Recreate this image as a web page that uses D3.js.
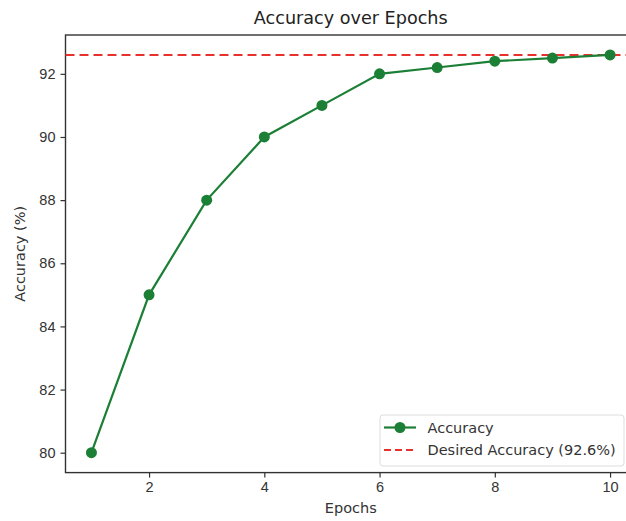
<!DOCTYPE html>
<html>
<head>
<meta charset="utf-8">
<script src="https://cdn.jsdelivr.net/npm/d3@7"></script>
<style>
  html, body { margin: 0; padding: 0; background: #fff; }
  svg { display: block; font-family: "DejaVu Sans", "Open Sans", sans-serif; }
</style>
</head>
<body>
<svg id="chart" width="626" height="521"></svg>
<script>
// Training accuracy per epoch
const epochs = [1, 2, 3, 4, 5, 6, 7, 8, 9, 10];
const accuracy = [80, 85, 88, 90, 91, 92, 92.2, 92.4, 92.5, 92.6];
const targetAccuracy = 92.6;
const xTicks = [2, 4, 6, 8, 10];
const yTicks = [80, 82, 84, 86, 88, 90, 92];
const seriesNames = ["Accuracy", "Desired Accuracy (92.6%)"];

const lineColor = "#1b7f35";
const refColor = "#e8302c";
const axisColor = "#333";
const labelSize = "14.5px";

const svg = d3.select("#chart");
const plot = { left: 65.5, right: 636, top: 35, bottom: 472.6 };

// 5% padding around the data range, like the usual plotting defaults
const xMin = d3.min(epochs), xMax = d3.max(epochs);
const xPad = (xMax - xMin) * 0.05;
const yMin = d3.min(accuracy), yMax = d3.max(accuracy.concat([targetAccuracy]));
const yPad = (yMax - yMin) * 0.05;

const x = d3.scaleLinear().domain([xMin - xPad, xMax + xPad]).range([plot.left, plot.right]);
const y = d3.scaleLinear().domain([yMin - yPad, yMax + yPad]).range([plot.bottom, plot.top]);

// Axes
const xAxis = svg.append("g")
  .attr("transform", `translate(0,${plot.bottom})`)
  .call(d3.axisBottom(x).tickValues(xTicks).tickFormat(d3.format("d")).tickSize(5).tickPadding(4));
const yAxis = svg.append("g")
  .attr("transform", `translate(${plot.left},0)`)
  .call(d3.axisLeft(y).tickValues(yTicks).tickFormat(d3.format("d")).tickSize(5).tickPadding(5));
[xAxis, yAxis].forEach(g => {
  g.select(".domain").remove();
  g.selectAll(".tick line").attr("stroke", axisColor).attr("stroke-width", 1.2);
  g.selectAll(".tick text").attr("fill", "#333").style("font-size", labelSize);
});

// Frame
svg.append("rect")
  .attr("x", plot.left).attr("y", plot.top)
  .attr("width", plot.right - plot.left).attr("height", plot.bottom - plot.top)
  .attr("fill", "none").attr("stroke", axisColor).attr("stroke-width", 1.4);

// Target line
svg.append("line")
  .attr("x1", plot.left).attr("x2", plot.right)
  .attr("y1", y(targetAccuracy)).attr("y2", y(targetAccuracy))
  .attr("stroke", refColor).attr("stroke-width", 2)
  .attr("stroke-dasharray", "9,5");

// Accuracy series
const line = d3.line().x((d, i) => x(epochs[i])).y(d => y(d));
svg.append("path")
  .datum(accuracy)
  .attr("d", line)
  .attr("fill", "none").attr("stroke", lineColor).attr("stroke-width", 2.2);
svg.append("g").selectAll("circle")
  .data(accuracy)
  .join("circle")
  .attr("cx", (d, i) => x(epochs[i])).attr("cy", d => y(d))
  .attr("r", 5.5).attr("fill", lineColor);

// Titles
svg.append("text")
  .attr("x", (plot.left + plot.right) / 2).attr("y", 24)
  .attr("text-anchor", "middle").attr("fill", "#222")
  .style("font-size", "17.6px")
  .text("Accuracy over Epochs");
svg.append("text")
  .attr("x", (plot.left + plot.right) / 2).attr("y", 513)
  .attr("text-anchor", "middle").attr("fill", "#333")
  .style("font-size", labelSize)
  .text("Epochs");
svg.append("text")
  .attr("transform", `translate(25,${(plot.top + plot.bottom) / 2}) rotate(-90)`)
  .attr("text-anchor", "middle").attr("fill", "#333")
  .style("font-size", labelSize)
  .text("Accuracy (%)");

// Legend
const legend = svg.append("g").attr("transform", "translate(380,415)");
legend.append("rect")
  .attr("width", 244).attr("height", 51).attr("rx", 3)
  .attr("fill", "#fff").attr("fill-opacity", 0.85)
  .attr("stroke", "#ddd").attr("stroke-width", 1);
const rowY = [12.5, 35];
legend.append("line")
  .attr("x1", 4).attr("x2", 36).attr("y1", rowY[0]).attr("y2", rowY[0])
  .attr("stroke", lineColor).attr("stroke-width", 2.2);
legend.append("circle").attr("cx", 20).attr("cy", rowY[0]).attr("r", 5.5).attr("fill", lineColor);
legend.append("line")
  .attr("x1", 4).attr("x2", 36).attr("y1", rowY[1]).attr("y2", rowY[1])
  .attr("stroke", refColor).attr("stroke-width", 2)
  .attr("stroke-dasharray", "7,4");
legend.selectAll("text.lbl")
  .data(seriesNames)
  .join("text")
  .attr("class", "lbl")
  .attr("x", 47.5).attr("y", (d, i) => rowY[i])
  .attr("dy", "0.35em").attr("fill", "#333")
  .style("font-size", labelSize)
  .text(d => d);
</script>
</body>
</html>
